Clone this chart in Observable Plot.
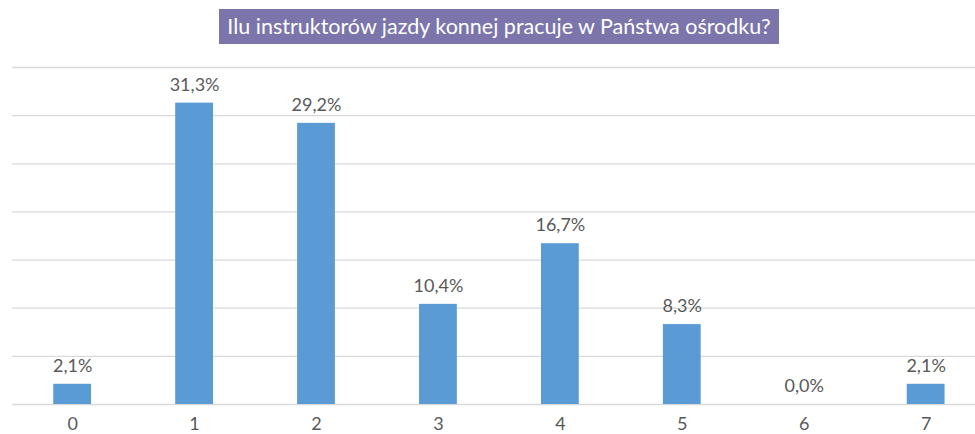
<!DOCTYPE html>
<html>
<head>
<meta charset="utf-8">
<script src="https://cdn.jsdelivr.net/npm/d3@7"></script>
<script src="https://cdn.jsdelivr.net/npm/@observablehq/plot@0.6"></script>
<style>
  html, body { margin: 0; padding: 0; background: #fff; }
  #wrap { position: relative; width: 975px; height: 434px; overflow: hidden; }
  #title {
    position: absolute; left: 219px; top: 9px; width: 560px; height: 35px;
    background: #7b75ab; color: #fff; font-family: Lato, "Open Sans", sans-serif;
    font-size: 21.5px; line-height: 35px; text-align: center; white-space: nowrap;
  }
  #chart { position: absolute; left: 0; top: 0; }
</style>
</head>
<body>
<div id="wrap">
  <div id="chart"></div>
  <div id="title">Ilu instruktorów jazdy konnej pracuje w Państwa ośrodku?</div>
</div>
<script>
const categories = ["0", "1", "2", "3", "4", "5", "6", "7"];
const values = [2.1, 31.3, 29.2, 10.4, 16.7, 8.3, 0.0, 2.1];
const gridTicks = [0, 5, 10, 15, 20, 25, 30, 35];

const data = categories.map((c, i) => ({cat: c, v: values[i]}));
const fmt = v => v.toFixed(1).replace(".", ",") + "%";

const chart = Plot.plot({
  width: 975,
  height: 434,
  marginLeft: 12,
  marginRight: 0,
  marginTop: 67,
  marginBottom: 30,
  style: {fontFamily: "Lato, 'Open Sans', sans-serif", background: "white"},
  x: {domain: categories, range: [11.2, 986.6], paddingInner: 0.69, paddingOuter: 0.345, round: false, label: null},
  y: {domain: [0, 35], range: [404, 67], label: null, axis: null},
  marks: [
    Plot.ruleY(gridTicks, {stroke: "#d9d9d9", strokeWidth: 1.3, strokeOpacity: 1}),
    Plot.barY(data, {x: "cat", y: "v", fill: "#5b9bd5"}),
    Plot.text(data, {x: "cat", y: "v", text: d => fmt(d.v), dy: -18, fontSize: 18, fill: "#595959"}),
    Plot.axisX({tickSize: 0, tickPadding: 13, fontSize: 18, color: "#595959", label: null})
  ]
});
document.getElementById("chart").appendChild(chart);
</script>
</body>
</html>
